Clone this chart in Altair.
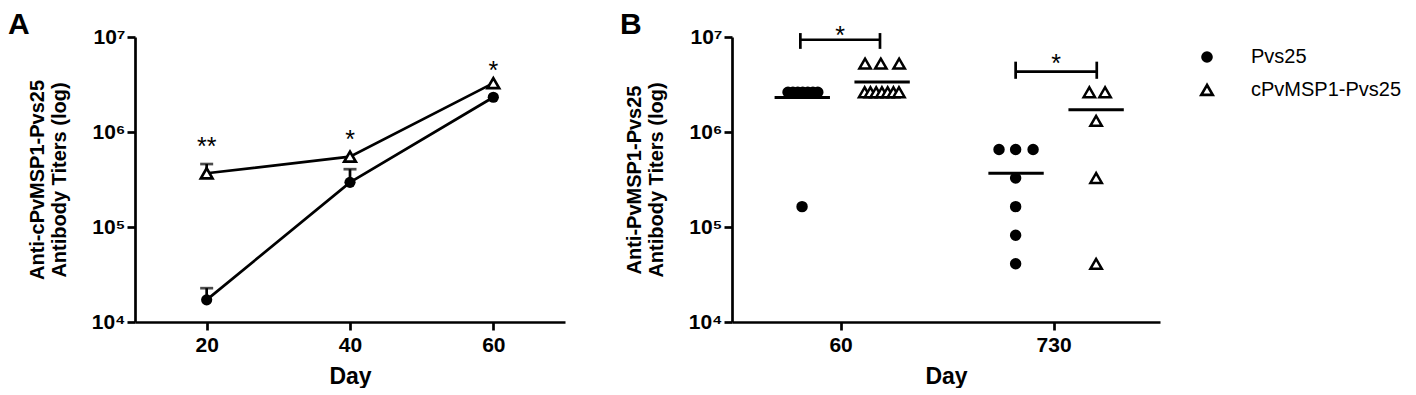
import altair as alt
import pandas as pd

FONT = "Liberation Sans"

# ---------------- shared axis values ----------------
y_tick_values = [1e4, 1e5, 1e6, 1e7]
y_tick_labels = ["10⁴", "10⁵", "10⁶", "10⁷"]

# ---------------- Panel A: mean titers over time ----------------
a_days = [20, 40, 60]
a_pvs25_mean = [1.71e4, 2.95e5, 2.32e6]
a_pvs25_err_top = [2.27e4, 4.06e5, None]
a_cpv_mean = [3.68e5, 5.5e5, 3.27e6]
a_cpv_err_top = [4.6e5, None, None]
a_star_labels = ["**", "*", "*"]
a_star_y = [6.9e5, 8.2e5, 4.4e6]

# ---------------- Panel B: individual titers ----------------
b_day_labels = ["60", "730"]
b_groups = ["Pvs25", "cPvMSP1-Pvs25"]
# day 60
b_pvs25_d60 = [2621440] * 7 + [163840]
b_pvs25_d60_off = [-0.247, -0.224, -0.201, -0.178, -0.154, -0.130, -0.107, -0.181]
b_cpv_d60 = [5242880] * 3 + [2621440] * 7
b_cpv_d60_off = [0.115, 0.189, 0.275, 0.113, 0.140, 0.167, 0.194, 0.221, 0.248, 0.274]
# day 730
b_pvs25_d730 = [655360] * 3 + [327680, 163840, 81920, 40960]
b_pvs25_d730_off = [-0.256, -0.178, -0.096, -0.178, -0.178, -0.178, -0.178]
b_cpv_d730 = [2621440, 2621440, 1310720, 327680, 40960]
b_cpv_d730_off = [0.168, 0.242, 0.200, 0.200, 0.200]
# group means (horizontal bars)
b_mean_pvs25 = [2.31e6, 3.69e5]
b_mean_cpv = [3.35e6, 1.71e6]
b_mean_center_pvs25 = [-0.18, -0.176]
b_mean_center_cpv = [0.195, 0.20]
b_mean_halfwidth = 0.13
# significance brackets
b_br_left = [-0.189, -0.178]
b_br_right = [0.185, 0.203]
b_br_level = [9.35e6, 4.33e6]
b_br_top = [1.1e7, 5.5e6]
b_br_bottom = [7.5e6, 3.63e6]
b_br_star = ["*", "*"]
b_br_star_y = [1.02e7, 5.2e6]

# ---------------- tables ----------------
dfA = pd.DataFrame({
    "day": a_days * 2,
    "titer": a_pvs25_mean + a_cpv_mean,
    "top": a_pvs25_err_top + a_cpv_err_top,
    "group": ["Pvs25"] * 3 + ["cPvMSP1-Pvs25"] * 3,
})
dfA_err = dfA.dropna(subset=["top"])
dfA_star = pd.DataFrame({"day": a_days, "titer": a_star_y, "t": a_star_labels})

rows = []


def add(vals, offs, g, di):
    for v, o in zip(vals, offs):
        rows.append({"x": di + o, "titer": v, "group": g})


add(b_pvs25_d60, b_pvs25_d60_off, b_groups[0], 0)
add(b_cpv_d60, b_cpv_d60_off, b_groups[1], 0)
add(b_pvs25_d730, b_pvs25_d730_off, b_groups[0], 1)
add(b_cpv_d730, b_cpv_d730_off, b_groups[1], 1)
dfB = pd.DataFrame(rows)

mean_rows = []
for di in range(2):
    mean_rows.append({"x": di + b_mean_center_pvs25[di] - b_mean_halfwidth,
                      "x2": di + b_mean_center_pvs25[di] + b_mean_halfwidth,
                      "titer": b_mean_pvs25[di]})
    mean_rows.append({"x": di + b_mean_center_cpv[di] - b_mean_halfwidth,
                      "x2": di + b_mean_center_cpv[di] + b_mean_halfwidth,
                      "titer": b_mean_cpv[di]})
dfB_mean = pd.DataFrame(mean_rows)

dfB_brh = pd.DataFrame({
    "x": [i + l for i, l in enumerate(b_br_left)],
    "x2": [i + r for i, r in enumerate(b_br_right)],
    "titer": b_br_level,
})
dfB_brv = pd.DataFrame({
    "x": [i + l for i, l in enumerate(b_br_left)] + [i + r for i, r in enumerate(b_br_right)],
    "titer": b_br_bottom * 2,
    "top": b_br_top * 2,
})
dfB_star = pd.DataFrame({
    "x": [i + (l + r) / 2 for i, (l, r) in enumerate(zip(b_br_left, b_br_right))],
    "titer": b_br_star_y,
    "t": b_br_star,
})

# ---------------- encodings ----------------
label_expr = " : ".join(
    f"datum.value == {int(v)} ? '{t}'" for v, t in zip(y_tick_values, y_tick_labels)
) + " : ''"

y_scale = alt.Scale(type="log", domain=[1e4, 1e7], nice=False)


def y_enc(title):
    return alt.Y("titer:Q", scale=y_scale,
                 axis=alt.Axis(values=y_tick_values, labelExpr=label_expr, title=title,
                               labelPadding=2, titlePadding=22, titleLineHeight=22))


yA = y_enc(["Anti-cPvMSP1-Pvs25", "Antibody Titers (log)"])
xA = alt.X("day:Q", scale=alt.Scale(domain=[10, 70], nice=False, zero=False),
           axis=alt.Axis(values=a_days, format="d", title="Day", labelPadding=4, titlePadding=10))

lines = alt.Chart(dfA).mark_line(color="black", strokeWidth=2.7).encode(x=xA, y=yA, detail="group:N")
err = alt.Chart(dfA_err).mark_rule(color="black", strokeWidth=2.7).encode(x=xA, y=yA, y2="top:Q")
caps = alt.Chart(dfA_err).mark_tick(color="black", orient="horizontal", size=13, thickness=2.7).encode(
    x=xA, y=alt.Y("top:Q", scale=y_scale))
circA = alt.Chart(dfA[dfA.group == "Pvs25"]).mark_point(
    shape="circle", filled=True, color="black", size=125, opacity=1).encode(x=xA, y=yA)
triA = alt.Chart(dfA[dfA.group != "Pvs25"]).mark_point(
    shape="triangle-up", filled=True, fill="white", stroke="black", strokeWidth=2.7,
    size=135, opacity=1).encode(x=xA, y=yA)
starsA = alt.Chart(dfA_star).mark_text(font=FONT, fontSize=25, color="black", baseline="middle").encode(
    x=xA, y=yA, text="t:N")
letterA = alt.Chart(pd.DataFrame({"t": ["A"]})).mark_text(
    font=FONT, fontSize=30, fontWeight="bold", color="black", align="left", baseline="top").encode(
    x=alt.value(-127), y=alt.value(-27.5), text="t:N")

panelA = alt.layer(lines, err, caps, circA, triA, starsA, letterA).properties(width=430, height=285)

# Panel B
xB_expr = " : ".join(f"datum.value == {i} ? '{t}'" for i, t in enumerate(b_day_labels)) + " : ''"
xB = alt.X("x:Q", scale=alt.Scale(domain=[-0.51, 1.5], nice=False, zero=False),
           axis=alt.Axis(values=[0, 1], labelExpr=xB_expr, title="Day", labelPadding=4, titlePadding=10))
yB = y_enc(["Anti-PvMSP1-Pvs25", "Antibody Titers (log)"])

legend = alt.Legend(title=None, orient="none", legendX=1062, legendY=10, padding=0,
                    labelFont=FONT, labelFontSize=20, labelFontWeight="normal", labelColor="black",
                    labelOffset=34, rowPadding=12, symbolStrokeColor="black",
                    symbolStrokeWidth=2.7)

pointsB = alt.Chart(dfB).mark_point(filled=True, strokeWidth=2.5, opacity=1).encode(
    x=xB, y=yB,
    shape=alt.Shape("group:N", scale=alt.Scale(domain=b_groups, range=["circle", "triangle-up"]), legend=legend),
    fill=alt.Fill("group:N", scale=alt.Scale(domain=b_groups, range=["black", "white"]), legend=legend),
    stroke=alt.Stroke("group:N", scale=alt.Scale(domain=b_groups, range=["black", "black"]), legend=legend),
    size=alt.Size("group:N", scale=alt.Scale(domain=b_groups, range=[80, 130]), legend=legend),
)
meansB = alt.Chart(dfB_mean).mark_rule(color="black", strokeWidth=3).encode(x=xB, x2="x2:Q", y=yB)
brhB = alt.Chart(dfB_brh).mark_rule(color="black", strokeWidth=2.7).encode(x=xB, x2="x2:Q", y=yB)
brvB = alt.Chart(dfB_brv).mark_rule(color="black", strokeWidth=2.7).encode(x=xB, y=yB, y2="top:Q")
starsB = alt.Chart(dfB_star).mark_text(font=FONT, fontSize=25, color="black", baseline="middle").encode(
    x=xB, y=yB, text="t:N")
letterB = alt.Chart(pd.DataFrame({"t": ["B"]})).mark_text(
    font=FONT, fontSize=30, fontWeight="bold", color="black", align="left", baseline="top").encode(
    x=alt.value(-112), y=alt.value(-27.5), text="t:N")

panelB = alt.layer(pointsB, meansB, brhB, brvB, starsB, letterB).properties(width=428, height=285)

chart = alt.hconcat(panelA, panelB, spacing=55).properties(
    padding={"left": 0, "top": 1, "right": 0, "bottom": 0}
).configure_view(stroke=None).configure_axis(
    grid=False, domainColor="black", domainWidth=2.7, tickColor="black", tickWidth=2.7, tickSize=8,
    labelFont=FONT, labelFontSize=21, labelFontWeight="bold", labelColor="black",
    titleFont=FONT, titleFontSize=20, titleFontWeight="bold", titleColor="black",
).configure_axisX(titleFontSize=23)

chart.save("out.html", embed_options={"renderer": "svg", "actions": False})
